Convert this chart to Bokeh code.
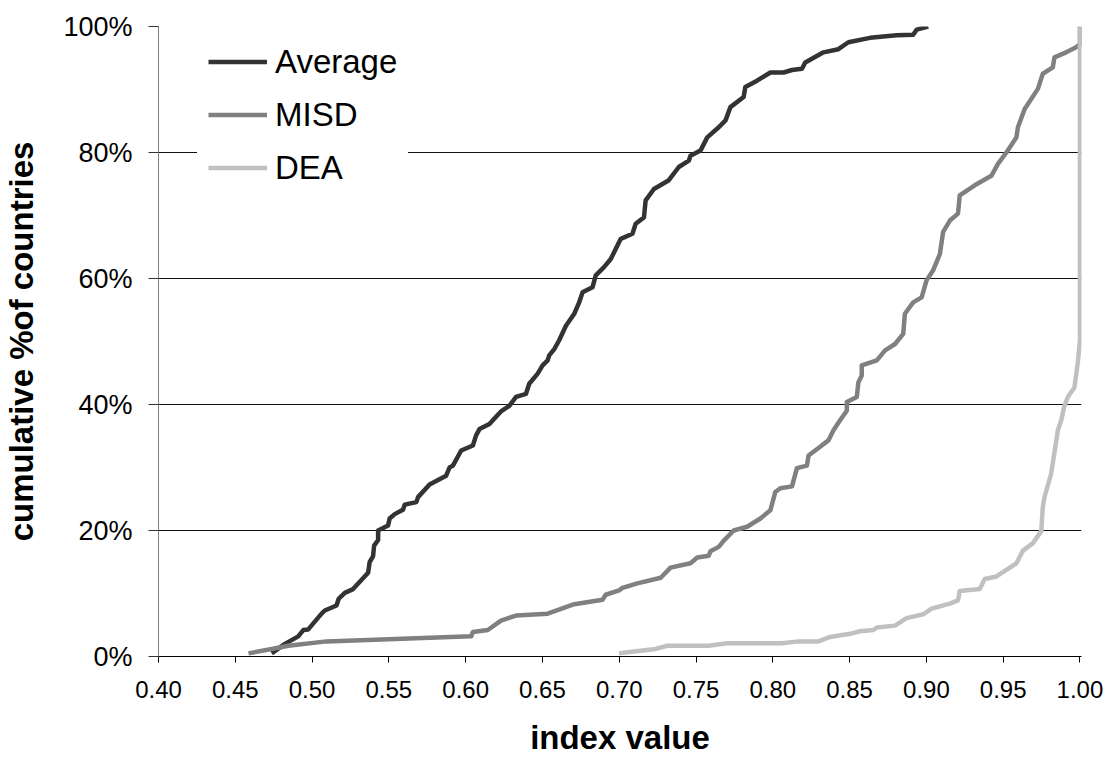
from bokeh.plotting import figure
from bokeh.models import Legend, LegendItem, FixedTicker, Range1d
from bokeh.embed import file_html
from bokeh.resources import INLINE

# ---- data ----
avg_x = [0.4737, 0.4823, 0.491, 0.4943, 0.4975, 0.5062, 0.5083, 0.5159, 0.5174, 0.5213,
         0.5267, 0.530, 0.5365, 0.5375, 0.5397, 0.5404, 0.543, 0.543, 0.5495, 0.5505,
         0.5538, 0.5592, 0.5603, 0.5679, 0.569, 0.5765, 0.5873, 0.5895, 0.5917, 0.5971,
         0.6047, 0.6068, 0.609, 0.6155, 0.6177, 0.623, 0.6285, 0.6328, 0.6393, 0.6414,
         0.6469, 0.6501, 0.6534, 0.6544, 0.6577, 0.6609, 0.6653, 0.6707, 0.6739, 0.6761,
         0.6826, 0.6847, 0.6901, 0.6945, 0.701, 0.7086, 0.7107, 0.7161, 0.7172, 0.7226,
         0.7323, 0.7388, 0.7453, 0.7464, 0.7529, 0.7573, 0.7648, 0.7692, 0.7724, 0.781,
         0.7821, 0.7897, 0.7984, 0.807, 0.8125, 0.819, 0.8211, 0.833, 0.8427, 0.8492,
         0.8633, 0.8806, 0.8914, 0.8937, 0.9012]
avg_y = [0.5, 2.0, 3.2, 4.2, 4.3, 6.8, 7.3, 8.1, 9.2, 10.1,
         10.7, 11.6, 13.3, 15.0, 15.9, 17.6, 18.5, 20.0, 20.8, 21.9,
         22.6, 23.3, 24.1, 24.5, 25.3, 27.3, 28.7, 30.0, 30.3, 32.7,
         33.5, 35.1, 36.1, 36.9, 37.5, 38.9, 39.8, 41.2, 41.7, 43.3,
         44.9, 46.2, 47.0, 47.8, 48.8, 50.2, 52.5, 54.4, 56.2, 57.8,
         58.6, 60.5, 61.8, 63.1, 66.3, 67.1, 68.7, 69.7, 72.4, 74.2,
         75.6, 77.7, 78.7, 79.5, 80.3, 82.4, 84.0, 85.1, 87.2, 88.8,
         90.4, 91.4, 92.7, 92.7, 93.1, 93.3, 94.3, 95.9, 96.4, 97.5,
         98.2, 98.6, 98.7, 99.5, 100.0]

misd_x = [0.4586, 0.4737, 0.4845, 0.5094, 0.6036, 0.6047, 0.6144, 0.623, 0.6328, 0.6534,
          0.6707, 0.6891, 0.6912, 0.6999, 0.7021, 0.7118, 0.727, 0.7334, 0.7464, 0.7508,
          0.7583, 0.7594, 0.7648, 0.7681, 0.7745, 0.7833, 0.7919, 0.7984, 0.8016, 0.8049,
          0.8125, 0.8157, 0.8222, 0.8233, 0.8308, 0.8362, 0.8395, 0.8438, 0.8482, 0.8482,
          0.8547, 0.8557, 0.8579, 0.8579, 0.8677, 0.8731, 0.8796, 0.8849, 0.886, 0.8914,
          0.8969, 0.9001, 0.9044, 0.9088, 0.9109, 0.9153, 0.9206, 0.9217, 0.9315, 0.9423,
          0.9466, 0.9521, 0.9586, 0.9596, 0.964, 0.9726, 0.9758, 0.9823, 0.9834, 0.991,
          0.9975, 1.0, 1.0]
misd_y = [0.5, 1.2, 1.7, 2.4, 3.2, 3.9, 4.2, 5.7, 6.5, 6.8,
          8.3, 9.0, 9.8, 10.5, 10.9, 11.6, 12.5, 14.1, 14.8, 15.7,
          16.0, 16.7, 17.4, 18.4, 20.0, 20.6, 21.9, 23.2, 26.1, 26.7,
          27.0, 29.9, 30.3, 31.9, 33.3, 34.3, 35.9, 37.5, 39.0, 40.4,
          41.2, 43.5, 44.6, 46.2, 47.0, 48.6, 49.6, 51.2, 54.4, 56.2,
          57.0, 59.7, 61.3, 63.9, 67.4, 69.2, 70.3, 73.2, 74.8, 76.3,
          78.2, 80.0, 82.4, 84.0, 86.9, 90.1, 92.5, 93.5, 95.1, 95.9,
          96.7, 97.2, 100.0]

dea_x = [0.6999, 0.7237, 0.7313, 0.7583, 0.7703, 0.806, 0.8168, 0.8297, 0.8373, 0.8503,
         0.8568, 0.8655, 0.8677, 0.8796, 0.8871, 0.8979, 0.9034, 0.9153, 0.9206, 0.9217,
         0.9347, 0.938, 0.9456, 0.9586, 0.9629, 0.9694, 0.9748, 0.9758, 0.9769, 0.9812,
         0.9834, 0.9856, 0.9878, 0.9899, 0.9921, 0.9964, 0.9986, 1.0, 1.0]
dea_y = [0.5, 1.2, 1.7, 1.7, 2.1, 2.1, 2.4, 2.4, 3.1, 3.6,
         4.0, 4.2, 4.6, 4.9, 6.1, 6.7, 7.6, 8.4, 8.9, 10.4,
         10.7, 12.3, 12.7, 14.8, 16.8, 18.0, 19.9, 23.7, 25.3, 29.0,
         32.4, 35.9, 37.5, 39.8, 41.2, 42.7, 46.7, 50.2, 100.0]

series_names = ["Average", "MISD", "DEA"]
series_colors = ["#333333", "#808080", "#c0c0c0"]

x_ticks = [0.40, 0.45, 0.50, 0.55, 0.60, 0.65, 0.70, 0.75, 0.80, 0.85, 0.90, 0.95, 1.00]
x_tick_labels = ["0.40", "0.45", "0.50", "0.55", "0.60", "0.65", "0.70", "0.75",
                 "0.80", "0.85", "0.90", "0.95", "1.00"]
y_ticks = [0, 20, 40, 60, 80, 100]
y_tick_labels = ["0%", "20%", "40%", "60%", "80%", "100%"]

FONT = "Liberation Sans"

p = figure(width=1114, height=762, output_backend="svg", toolbar_location=None,
           x_range=Range1d(0.40, 1.001), y_range=Range1d(0, 100),
           min_border_left=156, min_border_right=33, min_border_top=26, min_border_bottom=106,
           background_fill_color="white", border_fill_color="white")
p.outline_line_color = None

# grid
p.xgrid.grid_line_color = None
p.ygrid.ticker = FixedTicker(ticks=y_ticks)
p.ygrid.grid_line_color = "#111111"
p.ygrid.grid_line_width = 1

# x axis
p.xaxis.ticker = FixedTicker(ticks=x_ticks)
p.xaxis.major_label_overrides = {t: l for t, l in zip(x_ticks, x_tick_labels)}
p.xaxis.axis_label = "index value"
p.xaxis.axis_label_text_font = FONT
p.xaxis.axis_label_text_font_style = "bold"
p.xaxis.axis_label_text_font_size = "33px"
p.xaxis.axis_label_text_color = "black"
p.xaxis.axis_label_standoff = 18
p.xaxis.major_label_text_font = FONT
p.xaxis.major_label_text_font_size = "24px"
p.xaxis.major_label_text_color = "black"
p.xaxis.major_label_standoff = 18
p.xaxis.axis_line_color = "black"
p.xaxis.major_tick_line_color = "black"
p.xaxis.major_tick_out = 6
p.xaxis.major_tick_in = 0
p.xaxis.minor_tick_line_color = None

# y axis
p.yaxis.ticker = FixedTicker(ticks=y_ticks)
p.yaxis.major_label_overrides = {t: l for t, l in zip(y_ticks, y_tick_labels)}
p.yaxis.axis_label = "cumulative %of countries"
p.yaxis.axis_label_text_font = FONT
p.yaxis.axis_label_text_font_style = "bold"
p.yaxis.axis_label_text_font_size = "33px"
p.yaxis.axis_label_text_color = "black"
p.yaxis.axis_label_standoff = 20
p.yaxis.major_label_text_font = FONT
p.yaxis.major_label_text_font_size = "27px"
p.yaxis.major_label_text_color = "black"
p.yaxis.major_label_standoff = 16
p.yaxis.axis_line_color = "#808080"
p.yaxis.major_tick_line_color = "#333333"
p.yaxis.major_tick_out = 10
p.yaxis.major_tick_in = 0
p.yaxis.minor_tick_line_color = None

# lines
r_avg = p.line(avg_x, avg_y, line_color=series_colors[0], line_width=4.5, line_join="round")
r_misd = p.line(misd_x, misd_y, line_color=series_colors[1], line_width=4.5, line_join="round")
r_dea = p.line(dea_x, dea_y, line_color=series_colors[2], line_width=4.5, line_join="round")

legend = Legend(items=[LegendItem(label=series_names[0], renderers=[r_avg]),
                       LegendItem(label=series_names[1], renderers=[r_misd]),
                       LegendItem(label=series_names[2], renderers=[r_dea])],
                location=(39, 455))
legend.background_fill_color = "white"
legend.background_fill_alpha = 1.0
legend.border_line_color = "white"
legend.border_line_width = 1
legend.label_text_font = FONT
legend.label_text_font_size = "33px"
legend.label_text_color = "black"
legend.glyph_width = 59
legend.glyph_height = 45
legend.label_height = 45
legend.label_standoff = 8
legend.spacing = 8
legend.padding = 10
legend.margin = 0
p.add_layout(legend)

open("out.html", "w").write(file_html(p, INLINE))
